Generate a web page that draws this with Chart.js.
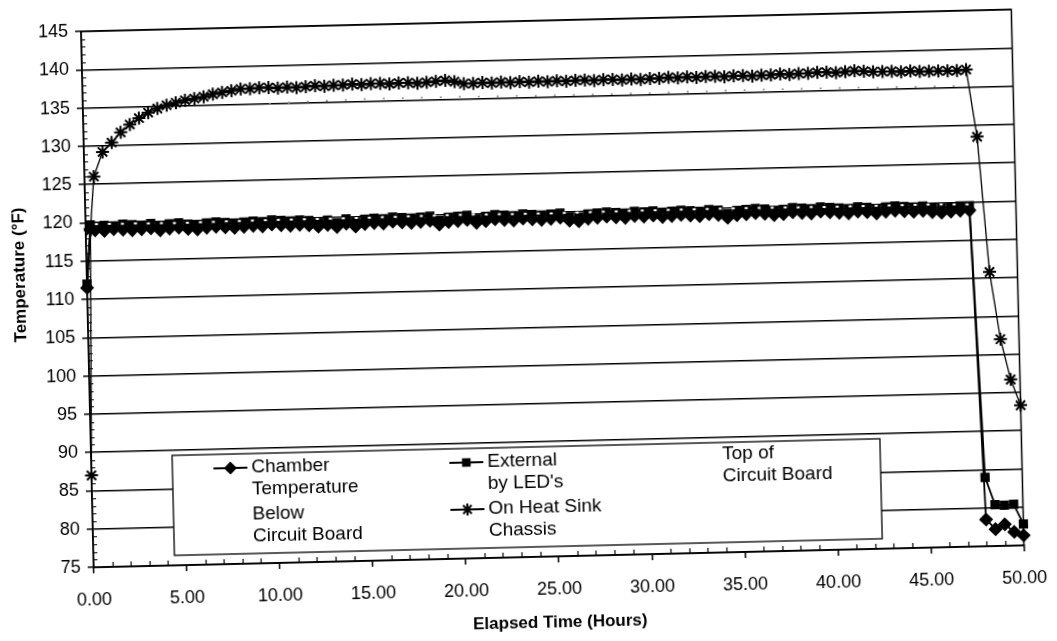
<!DOCTYPE html>
<html>
<head>
<meta charset="utf-8">
<script src="https://cdn.jsdelivr.net/npm/chart.js@4/dist/chart.umd.min.js"></script>
<style>
html,body{margin:0;padding:0;background:#fff;overflow:hidden;}
#wrap{width:1057px;height:641px;position:relative;overflow:hidden;}
#c{position:absolute;left:0;top:0;transform:rotate(-1.35deg);transform-origin:528.5px 320.5px;}
</style>
</head>
<body>
<div id="wrap"><canvas id="c" width="1057" height="641"></canvas></div>
<script>
// ---- data ----
const hours = [0, 0.25, 0.5, 1, 1.5, 2, 2.5, 3, 3.5, 4,
  4.5, 5, 5.5, 6, 6.5, 7, 7.5, 8, 8.5, 9,
  9.5, 10, 10.5, 11, 11.5, 12, 12.5, 13, 13.5, 14,
  14.5, 15, 15.5, 16, 16.5, 17, 17.5, 18, 18.5, 19,
  19.5, 20, 20.5, 21, 21.5, 22, 22.5, 23, 23.5, 24,
  24.5, 25, 25.5, 26, 26.5, 27, 27.5, 28, 28.5, 29,
  29.5, 30, 30.5, 31, 31.5, 32, 32.5, 33, 33.5, 34,
  34.5, 35, 35.5, 36, 36.5, 37, 37.5, 38, 38.5, 39,
  39.5, 40, 40.5, 41, 41.5, 42, 42.5, 43, 43.5, 44,
  44.5, 45, 45.5, 46, 46.5, 47, 47.5, 48, 48.5, 49,
  49.5, 50];

const chamberTemp = [111.5, 119.2, 119.0, 118.9, 119.1, 119.0, 118.9, 119.0, 119.1, 118.8,
  119.0, 119.1, 118.9, 118.8, 119.0, 119.1, 119.0, 118.9, 119.0, 119.1,
  119.0, 119.2, 119.1, 119.0, 119.1, 119.0, 118.8, 119.0, 118.7, 119.1,
  118.7, 119.0, 119.1, 119.0, 119.2, 119.1, 119.0, 119.1, 119.2, 118.7,
  119.0, 119.1, 119.2, 118.8, 119.0, 119.2, 119.1, 119.0, 119.2, 119.1,
  119.0, 119.1, 119.2, 118.8, 118.7, 119.0, 119.1, 119.2, 119.1, 119.0,
  119.2, 119.1, 119.2, 119.0, 119.1, 119.2, 119.1, 119.0, 119.2, 119.1,
  118.7, 119.0, 119.1, 119.2, 119.1, 118.9, 119.0, 119.2, 119.1, 119.0,
  119.2, 119.1, 119.0, 118.9, 119.1, 119.0, 118.8, 119.0, 119.1, 119.0,
  118.9, 119.0, 118.8, 118.7, 118.8, 118.9, 118.9, 78.5, 77.2, 77.8,
  76.8, 76.3];

const externalTemp = [112.0, 119.7, 119.5, 119.6, 119.5, 119.7, 119.6, 119.5, 119.7, 119.4,
  119.6, 119.7, 119.5, 119.4, 119.6, 119.7, 119.6, 119.5, 119.6, 119.7,
  119.6, 119.8, 119.7, 119.6, 119.7, 119.6, 119.3, 119.6, 119.2, 119.7,
  119.3, 119.6, 119.7, 119.6, 119.8, 119.7, 119.6, 119.7, 119.8, 119.2,
  119.6, 119.7, 119.8, 119.3, 119.6, 119.8, 119.7, 119.6, 119.8, 119.7,
  119.6, 119.7, 119.8, 119.3, 119.2, 119.6, 119.7, 119.8, 119.7, 119.6,
  119.8, 119.7, 119.8, 119.6, 119.7, 119.8, 119.7, 119.6, 119.8, 119.7,
  119.2, 119.6, 119.7, 119.8, 119.7, 119.5, 119.6, 119.8, 119.7, 119.6,
  119.8, 119.7, 119.6, 119.5, 119.7, 119.6, 119.4, 119.6, 119.7, 119.6,
  119.5, 119.6, 119.4, 119.3, 119.4, 119.5, 119.5, 84.0, 80.4, 80.3,
  80.4, 77.8];

const heatSinkTemp = [87.0, 119.0, 126.0, 129.2, 130.4, 131.7, 132.7, 133.5, 134.2, 134.7,
  135.1, 135.4, 135.7, 135.9, 136.1, 136.4, 136.6, 136.8, 137.0, 137.0,
  137.1, 137.1, 137.0, 137.1, 137.0, 137.1, 137.2, 137.1, 137.2, 137.2,
  137.3, 137.2, 137.3, 137.3, 137.2, 137.3, 137.3, 137.2, 137.3, 137.4,
  137.5, 137.3, 137.0, 137.0, 137.1, 137.0, 137.1, 137.0, 137.1, 137.0,
  137.1, 137.0, 137.1, 137.0, 137.1, 137.1, 137.0, 137.1, 137.1, 137.0,
  137.1, 137.0, 137.1, 137.1, 137.2, 137.1, 137.2, 137.1, 137.2, 137.2,
  137.1, 137.2, 137.2, 137.1, 137.2, 137.2, 137.3, 137.2, 137.3, 137.3,
  137.4, 137.4, 137.3, 137.4, 137.5, 137.4, 137.3, 137.3, 137.3, 137.2,
  137.3, 137.2, 137.2, 137.2, 137.2, 137.2, 137.3, 128.5, 110.8, 102.0,
  96.7, 93.3];

const topBoardHours = [10, 15, 20, 25, 30, 35, 40, 45, 47.5];
const topBoardTemp  = [135.0, 135.3, 135.3, 135.2, 135.2, 135.3, 135.3, 135.2, 135.2];

const belowBoardHours = [0.5, 5, 10, 15, 20, 25, 30, 35, 40, 45, 47.5];
const belowBoardTemp  = [119.8, 119.7, 119.8, 119.8, 119.9, 119.8, 119.9, 119.9, 119.8, 119.8, 119.7];

const seriesLabels = [
  ['Chamber', 'Temperature'],
  ['External', "by LED's"],
  ['Top of', 'Circuit Board'],
  ['Below', 'Circuit Board'],
  ['On Heat Sink', 'Chassis']
];

const xTickValues = [0, 5, 10, 15, 20, 25, 30, 35, 40, 45, 50];
const yTickValues = [75, 80, 85, 90, 95, 100, 105, 110, 115, 120, 125, 130, 135, 140, 145];
const xAxisTitle = 'Elapsed Time (Hours)';
const yAxisTitle = 'Temperature (°F)';

// ---- chart ----
const FAMILY = '"Liberation Sans", Arial, sans-serif';
const pts = (xs, ys) => xs.map((x, i) => ({ x: x, y: ys[i] }));

const datasets = [
  { label: seriesLabels[0].join(' '), legendLines: seriesLabels[0], legendSample: true,
    data: pts(hours, chamberTemp), borderColor: '#000', backgroundColor: '#000',
    borderWidth: 1.8, pointStyle: 'rectRot', pointRadius: 6, pointBorderWidth: 1.5,
    showLine: true, clip: false },
  { label: seriesLabels[1].join(' '), legendLines: seriesLabels[1], legendSample: true,
    data: pts(hours, externalTemp), borderColor: '#000', backgroundColor: '#000',
    borderWidth: 1.8, pointStyle: 'rect', pointRadius: 5.5, pointBorderWidth: 1.5,
    showLine: true, clip: false },
  { label: seriesLabels[2].join(' '), legendLines: seriesLabels[2], legendSample: false,
    data: pts(topBoardHours, topBoardTemp), borderColor: '#8a8a8a', backgroundColor: '#8a8a8a',
    borderWidth: 1.6, borderDash: [2, 17], pointRadius: 0, showLine: true, clip: false },
  { label: seriesLabels[3].join(' '), legendLines: seriesLabels[3], legendSample: false,
    data: pts(belowBoardHours, belowBoardTemp), borderColor: '#fff', backgroundColor: '#fff',
    borderWidth: 2, borderDash: [3, 10], pointRadius: 0, showLine: true, clip: false, order: -1 },
  { label: seriesLabels[4].join(' '), legendLines: seriesLabels[4], legendSample: true,
    data: pts(hours, heatSinkTemp), borderColor: '#000', backgroundColor: '#000',
    borderWidth: 1.3, pointStyle: 'star', pointRadius: 6.5, pointBorderWidth: 2,
    showLine: true, clip: false }
];

const minorTicksAndFrame = {
  id: 'minorTicksAndFrame',
  afterDraw(chart) {
    const { ctx, chartArea: a, scales } = chart;
    const xs = scales.x, ys = scales.y;
    ctx.save();
    ctx.strokeStyle = '#000';
    ctx.lineWidth = 1.2;
    ctx.beginPath();
    for (let v = ys.min + 1; v < ys.max; v++) {
      if (v % 5 === 0) continue;
      const y = Math.round(ys.getPixelForValue(v)) + 0.5;
      ctx.moveTo(a.left, y); ctx.lineTo(a.left + 4, y);
    }
    for (let v = xs.min + 1; v < xs.max; v++) {
      if (v % 5 === 0) continue;
      const x = Math.round(xs.getPixelForValue(v)) + 0.5;
      ctx.moveTo(x, a.bottom); ctx.lineTo(x, a.bottom - 5);
    }
    ctx.stroke();
    ctx.lineWidth = 1.5;
    ctx.strokeRect(a.left, a.top, a.right - a.left, a.bottom - a.top);
    // vertical axis title, placed as in the reference (slightly above the plot centre)
    ctx.fillStyle = '#000';
    ctx.font = 'bold 17px ' + FAMILY;
    ctx.textAlign = 'center';
    ctx.textBaseline = 'middle';
    ctx.translate(21, (a.top + a.bottom) / 2 - 26);
    ctx.rotate(-Math.PI / 2);
    ctx.fillText(yAxisTitle, 0, 0);
    ctx.restore();
  }
};

const boxLegend = {
  id: 'boxLegend',
  afterDraw(chart) {
    const { ctx } = chart;
    const box = { left: 169, top: 447, right: 877, bottom: 547 };
    const slots = [
      { x: 248, y: 461 }, { x: 484, y: 461 }, { x: 719, y: 459 },
      { x: 248, y: 508 }, { x: 484, y: 508 }
    ];
    ctx.save();
    ctx.fillStyle = '#fff';
    ctx.fillRect(box.left, box.top, box.right - box.left, box.bottom - box.top);
    ctx.strokeStyle = '#000';
    ctx.lineWidth = 1.3;
    ctx.strokeRect(box.left, box.top, box.right - box.left, box.bottom - box.top);
    ctx.font = '19px ' + FAMILY;
    ctx.textAlign = 'left';
    ctx.textBaseline = 'middle';
    chart.data.datasets.forEach((ds, i) => {
      const s = slots[i];
      if (ds.legendSample) {
        ctx.strokeStyle = ds.borderColor;
        ctx.lineWidth = 1.8;
        ctx.beginPath();
        ctx.moveTo(s.x - 38, s.y); ctx.lineTo(s.x - 4, s.y);
        ctx.stroke();
        ctx.fillStyle = ds.backgroundColor;
        ctx.lineWidth = ds.pointBorderWidth;
        Chart.helpers.drawPoint(ctx, {
          pointStyle: ds.pointStyle, radius: ds.pointRadius - 0.5,
          rotation: 0, borderWidth: ds.pointBorderWidth
        }, s.x - 21, s.y);
      }
      ctx.fillStyle = '#000';
      ds.legendLines.forEach((line, k) => ctx.fillText(line, s.x, s.y + k * 22));
    });
    ctx.restore();
  }
};

new Chart(document.getElementById('c'), {
  type: 'scatter',
  data: { datasets: datasets },
  options: {
    responsive: false,
    animation: false,
    devicePixelRatio: 1,
    layout: { padding: { left: 0, right: 35, top: 21, bottom: 0 } },
    plugins: { legend: { display: false }, tooltip: { enabled: false } },
    elements: { line: { tension: 0 } },
    scales: {
      x: {
        type: 'linear', min: 0, max: 50,
        afterFit(s) { s.height = 84; },
        afterBuildTicks(s) { s.ticks = xTickValues.map(v => ({ value: v })); },
        grid: { drawOnChartArea: false, color: '#000', lineWidth: 1.5, tickLength: 6 },
        border: { color: '#000', width: 1.5 },
        ticks: { color: '#000', font: { family: FAMILY, size: 18 }, padding: 16,
                 maxRotation: 0, autoSkip: false, callback: v => Number(v).toFixed(2) },
        title: { display: true, text: xAxisTitle, color: '#000',
                 font: { family: FAMILY, size: 17, weight: 'bold' }, padding: { top: 0, bottom: 7 } }
      },
      y: {
        type: 'linear', min: 75, max: 145,
        afterFit(s) { s.width = 88; },
        afterBuildTicks(s) { s.ticks = yTickValues.map(v => ({ value: v })); },
        grid: { color: '#000', lineWidth: 1.5, tickLength: 6 },
        border: { color: '#000', width: 1.5 },
        ticks: { color: '#000', font: { family: FAMILY, size: 18 }, padding: 7,
                 callback: v => String(v) },
        title: { display: false, text: yAxisTitle }
      }
    }
  },
  plugins: [minorTicksAndFrame, boxLegend]
});
</script>
</body>
</html>
